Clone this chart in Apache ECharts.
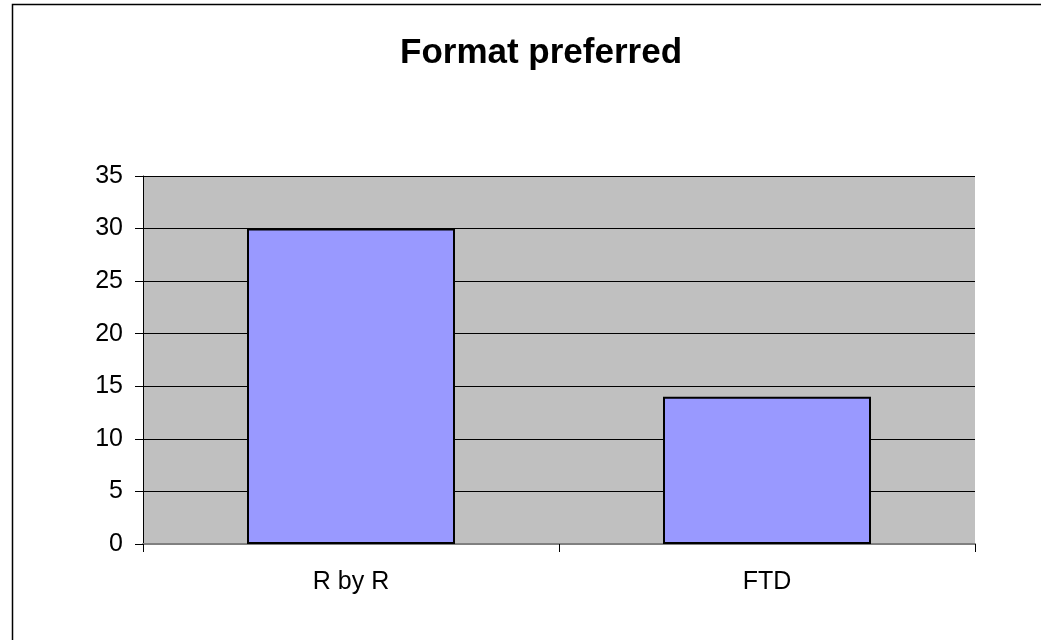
<!DOCTYPE html>
<html>
<head>
<meta charset="utf-8">
<script src="https://cdn.jsdelivr.net/npm/echarts@6/dist/echarts.min.js"></script>
<style>
html,body{margin:0;padding:0;background:#fff;}
#chart{width:1041px;height:640px;}
</style>
</head>
<body>
<div id="chart"></div>
<script>
const titleText = "Format preferred";
const categories = ["R by R", "FTD"];
const values = [30, 14];
const yTicks = { min: 0, max: 35, interval: 5 };

const chart = echarts.init(document.getElementById('chart'), null, { renderer: 'canvas' });
const FONT = '"Liberation Sans", Arial, sans-serif';
chart.setOption({
  backgroundColor: '#ffffff',
  animation: false,
  title: {
    text: titleText,
    left: 400,
    top: 36,
    padding: 0,
    textStyle: { fontFamily: FONT, fontSize: 35, fontWeight: 'bold', color: '#000' }
  },
  graphic: [{
    type: 'rect',
    shape: { x: 12.5, y: 4.5, width: 1200, height: 800 },
    style: { fill: 'none', stroke: '#000', lineWidth: 1.5 },
    silent: true,
    z: 100
  }],
  grid: { left: 143, right: 66, top: 176, bottom: 96, show: true, backgroundColor: '#c0c0c0', borderWidth: 0 },
  xAxis: {
    type: 'category',
    data: categories,
    boundaryGap: true,
    axisLine: { show: true, lineStyle: { color: '#808080', width: 2 } },
    axisTick: { show: true, length: 8, lineStyle: { color: '#000', width: 1 } },
    axisLabel: { margin: 26, fontFamily: FONT, fontSize: 25, color: '#000' },
    splitLine: { show: false }
  },
  yAxis: {
    type: 'value',
    min: yTicks.min, max: yTicks.max, interval: yTicks.interval,
    axisLine: { show: true, lineStyle: { color: '#000', width: 1 } },
    axisTick: { show: true, length: 8, lineStyle: { color: '#000', width: 1 } },
    axisLabel: { margin: 20, fontFamily: FONT, fontSize: 25, color: '#000' },
    splitLine: { show: true, lineStyle: { color: '#000', width: 1 } }
  },
  series: [{
    type: 'bar',
    data: values,
    barWidth: '50%',
    itemStyle: { color: '#9999ff', borderColor: '#000', borderWidth: 2 }
  }]
});
</script>
</body>
</html>
